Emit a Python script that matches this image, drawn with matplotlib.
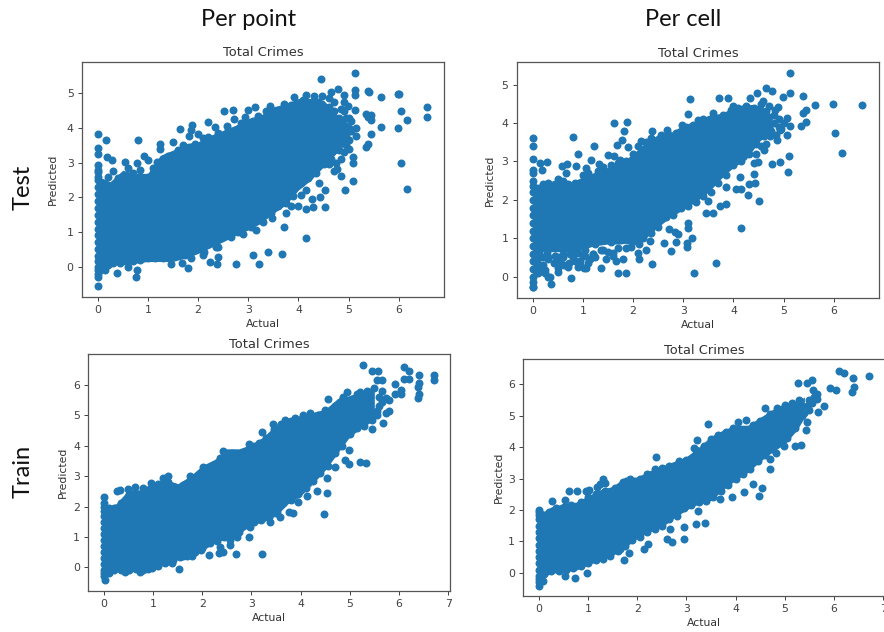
import matplotlib
matplotlib.use("Agg")
import matplotlib.pyplot as plt

BLUE = "#1f77b4"
W, H = 884, 632

tl_band_x = [0, .25, .5, .75, 1, 1.25, 1.5, 1.75, 2, 2.25, 2.5, 2.75, 3, 3.25, 3.5, 3.75, 4, 4.25, 4.5, 4.75, 5]
tl_band_low = [-.19, .1, .05, .1, .15, .15, .15, .25, .38, .55, .72, .9, 1.06, 1.25, 1.54, 1.78, 2.21, 2.5, 2.88, 3.26, 3.65]
tl_band_high = [2.6, 2.45, 2.78, 2.69, 2.69, 3.21, 3.36, 3.55, 3.6, 3.79, 3.93, 4.08, 4.27, 4.37, 4.61, 4.7, 4.85, 4.85, 4.8, 4.41, 4.13]

tr_band_x = [0, .12, .2, .5, .75, 1, 1.2, 1.5, 1.75, 2, 2.25, 2.5, 2.75, 3, 3.25, 3.5, 3.75, 4, 4.25, 4.5, 4.75]
tr_band_low = [-.17, .1, .65, .65, .65, .7, .8, .85, .85, .9, 1.0, 1.3, 1.55, 1.75, 1.95, 2.2, 2.55, 2.85, 3.05, 3.5, 3.8]
tr_band_high = [2.47, 2.34, 2.4, 2.55, 2.45, 2.6, 2.7, 2.85, 2.95, 3.2, 3.5, 3.7, 3.75, 3.95, 4.05, 4.2, 4.25, 4.4, 4.5, 4.45, 4.15]

bl_band_x = [0, .1, .25, .5, .75, 1, 1.25, 1.5, 1.75, 2, 2.25, 2.5, 2.75, 3, 3.25, 3.5, 3.75, 4, 4.25, 4.5, 4.75, 5, 5.25, 5.5]
bl_band_low = [-.47, -.2, -.1, -.15, -.13, -.05, .1, .25, .45, .55, .8, .95, 1.1, 1.4, 1.5, 1.7, 2.1, 2.35, 2.75, 3.2, 3.75, 4.3, 4.6, 4.85]
bl_band_high = [2.1, 2.0, 2.1, 2.55, 2.55, 2.8, 2.9, 2.75, 3.0, 3.35, 3.55, 3.9, 3.9, 4.05, 4.3, 4.7, 4.9, 5.0, 5.1, 5.2, 5.55, 5.65, 5.8, 5.95]

br_band_x = [0, .1, .25, .5, .75, 1, 1.25, 1.5, 1.75, 2, 2.25, 2.5, 2.75, 3, 3.25, 3.5, 3.75, 4, 4.25, 4.5, 4.75, 5, 5.25, 5.4]
br_band_low = [-.45, -.13, -.02, .03, .08, .25, .4, .55, .8, 1.1, 1.3, 1.45, 1.75, 2.0, 2.2, 2.3, 2.65, 2.95, 3.2, 3.55, 3.85, 4.1, 4.55, 4.95]
br_band_high = [2.05, 1.95, 2.1, 2.2, 2.25, 2.45, 2.65, 2.75, 3.05, 3.05, 3.25, 3.4, 3.55, 3.7, 4.0, 4.35, 4.55, 4.7, 4.7, 4.95, 5.2, 5.4, 5.45, 5.6]

# points along the rim of the solid part, and the column at Actual = 0
tl_rim_x = [.1, .2, .3, .4, .5, .6, .7, .85, 1.0, 1.1, 1.3, 1.4, 1.6, 1.7, 1.95, 2.1, 2.2, 2.4, 2.6, 2.85, 3.1, 3.2, 3.35, 3.6, 3.85, 4.1, 4.4, 4.6, 4.7, 4.8, 4.95, 5.0,
            .05, .2, .3, .45, .6, .7, .85, 1.0, 1.15, 1.3, 1.45, 1.6, 1.75, 1.9, 2.05, 2.2, 2.35, 2.5, 2.65, 2.8, 2.9, 3.05, 3.15, 3.3, 3.45, 3.6, 3.75, 3.9, 4.05, 4.2, 4.35, 4.5, 4.65, 4.8, 4.9,
            5.0, 5.05, 4.95, 4.9, 5.05, 4.85, 4.75, 4.9, 4.95, 4.6, 4.7, 5.0, 4.85, 4.7, 4.6, 4.6, 4.8, 5.0,
            0, 0, 0, 0, 0, 0, 0, 0, 0, 0, 0, 0, 0, 0, 0, 0, 0, 0]
tl_rim_y = [2.4, 2.6, 2.75, 2.55, 2.6, 2.85, 2.7, 2.8, 2.6, 2.85, 3.1, 3.2, 3.35, 3.5, 3.55, 3.7, 3.75, 3.85, 3.95, 4.15, 4.2, 4.35, 4.5, 4.5, 4.65, 4.8, 4.75, 4.6, 4.5, 4.3, 4.3, 4.0,
            -.1, .05, .1, .1, 0, .15, .2, .25, .25, .25, .25, .35, .35, .45, .55, .65, .75, .85, .85, 1.0, .95, 1.15, 1.05, 1.3, 1.55, 1.75, 1.85, 2.05, 2.4, 2.55, 2.7, 2.95, 3.1, 3.35, 3.6,
            4.3, 3.9, 3.8, 4.5, 4.2, 3.1, 3.0, 3.3, 3.5, 2.95, 2.75, 3.4, 4.55, 4.75, 4.85, 3.4, 3.8, 3.65,
            -.2, -.1, 0, .15, .3, .5, .7, .9, 1.1, 1.3, 1.5, 1.7, 1.9, 2.1, 2.3, 2.5, 2.6, 2.8]

tr_rim_x = [.1, .2, .3, .4, .5, .6, .7, .85, 1.0, 1.1, 1.3, 1.4, 1.55, 1.7, 1.85, 2.0, 2.1, 2.25, 2.35, 2.55, 2.7, 2.85, 3.05, 3.2, 3.4, 3.6, 3.8, 3.95, 4.1, 4.25, 4.4, 4.55, 4.7, 4.8, 4.9,
            1.9, 2.05, 2.2, 2.35, 2.5, 2.65, 2.8, 2.95, 3.1, 3.25, 3.4, 3.55, 3.7, 3.85, 4.0, 4.15, 4.3, 4.45, 4.6, 4.75,
            .25, .35, .51, .71, .9, 1.07, .2, .1, .1, .1,
            .3, .42, .55, .68, .8, .95, 1.1, 1.25, 1.45, 1.6, .28, .45, .6, .75, .9, 1.05, 1.2, 1.4,
            4.6, 4.7, 4.8, 4.85, 4.95, 4.65, 4.55, 4.7, 4.9, 5.0, 4.55, 4.45, 4.4, 4.6, 4.65,
            0, 0, 0, 0, 0, 0, 0, 0, 0, 0, 0, 0, 0, 0, 0, 0]
tr_rim_y = [2.3, 2.4, 2.45, 2.35, 2.55, 2.5, 2.4, 2.45, 2.65, 2.7, 2.75, 2.85, 2.9, 2.95, 3.0, 3.2, 3.4, 3.5, 3.6, 3.7, 3.72, 3.75, 3.9, 3.95, 4.1, 4.15, 4.2, 4.35, 4.4, 4.45, 4.4, 4.3, 4.15, 4.0, 3.9,
            .95, .95, 1.0, 1.15, 1.3, 1.55, 1.6, 1.8, 1.85, 1.95, 2.1, 2.2, 2.45, 2.65, 2.9, 3.0, 3.2, 3.45, 3.65, 3.8,
            .17, 0, .22, .26, .26, .22, .3, .1, .5, .9,
            .45, .35, .42, .3, .5, .42, .35, .5, .45, .62, .62, .55, .5, .6, .62, .55, .6, .7,
            3.9, 3.9, 4.2, 3.7, 3.85, 4.3, 4.5, 4.45, 4.1, 4.0, 3.4, 3.2, 2.95, 3.3, 3.45,
            -.26, -.15, 0, .2, .4, .6, .8, 1.0, 1.2, 1.4, 1.6, 1.8, 2.0, 2.2, 2.35, 2.5]

bl_rim_x = [.1, .2, .35, .5, .6, .8, .9, 1.1, 1.3, 1.45, 1.6, 1.85, 2.1, 2.2, 2.35, 2.6, 2.8, 3.05, 3.15, 3.3, 3.45, 3.6, 3.8, 4.1, 4.35, 4.55, 4.7, 4.85, 5.05, 5.15, 5.35, 5.5,
            .1, .2, .35, .5, .65, .8, .9, 1.1, 1.25, 1.4, 1.55, 1.7, 1.85, 2.0, 2.15, 2.3, 2.45, 2.6, 2.75, 2.9, 3.05, 3.2, 3.35, 3.5, 3.65, 3.8, 3.95, 4.1, 4.25, 4.4, 4.55, 4.7, 4.85, 5.0, 5.15, 5.3, 5.45, 5.55,
            5.6, 5.6, 5.55, 5.65,
            0, 0, 0, 0, 0, 0, 0, 0, 0, 0, 0, 0, 0, 0, 0]
bl_rim_y = [1.95, 1.95, 2.1, 2.4, 2.4, 2.45, 2.55, 2.75, 2.8, 2.65, 2.7, 2.95, 3.25, 3.35, 3.6, 3.75, 3.75, 4.0, 4.1, 4.25, 4.55, 4.7, 4.8, 4.9, 5.0, 5.1, 5.3, 5.5, 5.55, 5.7, 5.8, 5.9,
            -.2, -.1, -.1, -.1, -.05, -.1, -.05, .05, .15, .25, .35, .45, .5, .65, .8, .85, 1.0, 1.05, 1.15, 1.4, 1.5, 1.55, 1.65, 1.8, 2.1, 2.2, 2.4, 2.6, 2.85, 3.1, 3.35, 3.75, 4.0, 4.4, 4.6, 4.65, 4.85, 5.0,
            5.3, 5.6, 5.15, 5.45,
            -.3, -.1, .1, .3, .5, .7, .9, 1.1, 1.3, 1.5, 1.7, 1.85, 2.0, 2.1, -.2]

br_rim_x = [.1, .2, .35, .5, .65, .85, 1.0, 1.15, 1.35, 1.55, 1.7, 1.85, 2.05, 2.2, 2.35, 2.5, 2.65, 2.85, 3.0, 3.2, 3.35, 3.5, 3.65, 3.8, 3.95, 4.15, 4.35, 4.5, 4.7, 4.85, 5.0, 5.15, 5.3,
            .1, .25, .4, .55, .7, .85, 1.0, 1.15, 1.3, 1.45, 1.6, 1.75, 1.9, 2.05, 2.2, 2.35, 2.5, 2.65, 2.8, 2.95, 3.1, 3.25, 3.4, 3.55, 3.7, 3.85, 4.0, 4.15, 4.3, 4.45, 4.6, 4.75, 4.9, 5.05, 5.2, 5.35,
            5.45, 5.5, 5.6, 5.5, 5.4, 5.55,
            0, 0, 0, 0, 0, 0, 0, 0, 0, 0, 0, 0, 0, 0, 0]
br_rim_y = [1.85, 1.95, 2.05, 2.1, 2.15, 2.25, 2.4, 2.5, 2.6, 2.7, 2.9, 3.0, 3.0, 3.15, 3.3, 3.35, 3.4, 3.55, 3.6, 3.9, 4.05, 4.25, 4.4, 4.5, 4.6, 4.55, 4.7, 4.85, 5.05, 5.25, 5.35, 5.4, 5.5,
            -.05, .05, .05, .1, .15, .2, .3, .4, .45, .55, .7, .85, 1.05, 1.15, 1.3, 1.4, 1.5, 1.7, 1.8, 2.05, 2.15, 2.25, 2.3, 2.4, 2.6, 2.8, 3.0, 3.15, 3.3, 3.55, 3.75, 3.95, 4.15, 4.3, 4.6, 5.0,
            5.3, 5.5, 5.6, 5.2, 5.1, 5.4,
            -.3, -.1, .1, .3, .5, .7, .9, 1.1, 1.3, 1.5, 1.7, 1.85, 1.95, 2.0, -.2]

# points standing out of the solid part
tl_x = [5.13, 4.46, 4.78, 4.65, 4.91, 5.13, 5.13, 5.38, 5.40, 5.64, 5.98, 6.0, 6.57, 6.57, 6.04, 6.16, 5.98, 5.64, 5.44, 5.39, 5.34,
        5.34, 5.44, 5.44, 5.39, 5.14, 5.14, 5.13, 4.99, 4.91, 5.09, 5.08, 5.08, 4.93, 6.04, 6.16, 4.15, 3.72, 4.53, 4.30, 4.15, 4.0,
        3.86, 4.28, 4.43, 4.53, 4.42, 4.06, 4.15, 4.84, 4.77, 3.68, 3.40, 3.09, 3.22, 2.75, 3.47, 3.75, 2.40, 2.36, 2.40, 2.37, 2.24,
        2.10, 2.12, 1.81, 1.87, 1.69, 1.47, 1.51, .78, .76, .38, .15, 0, 0, 0, .16, .81, 0, 0, .18, 0, 0, .28, .54, .78, .92, 1.0,
        1.24, 1.24, 1.18, 1.51, 1.64, 1.89, 1.87, 1.83, 2.0, 2.19, 2.34, 2.58, 2.52, 2.69, 2.72, 3.0, 3.13, 2.93, 3.43, 3.72, 3.91,
        4.15, 4.32, 4.48]
tl_y = [5.59, 5.40, 5.13, 5.03, 4.96, 5.09, 4.96, 5.06, 5.03, 4.90, 4.99, 4.99, 4.59, 4.31, 4.50, 4.22, 4.0, 4.03, 3.82, 3.53, 3.45,
        4.40, 4.37, 4.22, 4.32, 4.01, 3.76, 4.51, 4.63, 4.75, 3.17, 2.98, 2.48, 2.21, 2.98, 2.23, .83, 1.15, 1.73, 1.73, 1.66, 1.76,
        1.76, 1.95, 2.0, 2.21, 2.42, 2.06, 2.21, 2.62, 2.83, .38, .43, .34, .08, .08, 1.39, 1.54, .58, .58, .27, .08, .14,
        .34, .43, -.03, .24, .1, .08, .38, -.1, -.29, -.19, -.1, -.56, -.29, 3.82, 3.64, 3.64, 3.41, 3.26, 3.17, 2.93, 2.73, 3.07, 3.02, 2.98, 3.2, 3.09,
        3.53, 3.38, 3.02, 3.6, 3.98, 4.08, 3.93, 3.76, 3.82, 4.17, 4.03, 4.05, 4.5, 4.53, 4.25, 4.51, 4.59, 4.32, 4.63, 4.7, 4.9,
        4.96, 4.91, 4.91]

tr_x = [5.12, 5.12, 4.99, 4.65, 4.77, 3.13, 3.72, 3.9, 3.09, 5.39, 5.63, 5.99, 6.56, 6.03, 6.16, 5.44, 5.39, 5.44, 5.34, 5.12, 5.06, 5.07,
        5.1, 5.08, 4.92, 4.76, 4.86, 4.73, 4.46, 4.33, 4.59, 4.89, 4.83, 4.92, 4.51, 4.43, 4.31, 4.28, 4.15, 4.05, 4.13, 4.41, 4.48, 4.15,
        3.86, 3.86, 3.73, 3.6, 3.45, 3.5, 3.66, 3.22, 3.17, 3.08, 3.08, 3.09, 3.09, 2.9, 2.83, 2.72, 2.85, 2.75, 2.62, 2.34, 2.37, 2.25, 2.12,
        2.1, 2.12, 1.96, 1.97, 1.85, 1.69, 1.36, .76, .37, .31, .51, 0,
        .3, .35, .4, .45, .5, .55, .6, .62, .7, .72, .75, .8, .85, .88, .92, .95, 1.0, 1.02, 1.05, 1.1, 1.15, 1.2, 1.25, 1.3, 1.35, 1.4, 1.45,
        1.5, 1.55, 1.6, 1.65, 1.7, 1.75, 1.8, 1.85, .15, .2, .18, .22, .25, .15,
        0, 0, 0, 0, 0, .15, .28, .18, .58, .68, .86, .66, .91, .81, 1.23, 1.17, 1.06, 1.32, 1.49, 1.61, 1.73, 1.67, 1.77, 1.62, 1.88, 1.82, 1.9,
        2.15, 2.37, 2.67, 2.97, 3.3, 3.6, 4.0]
tr_y = [5.29, 4.77, 4.67, 4.9, 4.84, 4.62, 4.64, 4.66, 4.24, 4.69, 4.47, 4.5, 4.47, 3.74, 3.23, 4.34, 4.27, 4.02, 3.93, 3.91, 4.12, 3.69,
        3.15, 2.73, 2.98, 2.93, 3.56, 3.65, 4.77, 4.64, 4.58, 4.41, 4.34, 3.82, 1.97, 2.43, 2.4, 2.13, 2.27, 2.27, 2.6, 2.67, 2.99, 1.27,
        2.34, 1.88, 1.85, 1.67, 1.65, 1.97, .36, .09, 1.0, .87, .78, 1.39, 1.26, 1.1, 1.17, 1.24, .89, .68, .87, .94, .33, .69, .84,
        .61, .45, .76, .91, .09, .09, .23, -.03, -.2, 0, .13, -.28,
        .5, .85, 1.1, .75, .5, 1.0, .6, .3, .95, .35, 1.15, .65, .4, .85, 1.2, .3, .55, .22, .7, .95, .45, .6, .85, 1.0, .7, .95, 1.1,
        .65, .9, .55, .4, .75, 1.0, .45, .75, .2, .5, .8, 1.05, .1, .95,
        3.6, 3.4, 3.06, 2.78, 2.71, 2.95, 2.98, 2.78, 2.89, 2.93, 2.89, 2.71, 3.19, 3.63, 3.4, 3.04, 2.82, 2.93, 3.17, 3.15, 3.04, 3.43, 3.56, 3.99, 4.02, 3.78, 3.37,
        3.54, 3.78, 3.82, 3.95, 4.08, 4.25, 4.44]

bl_x = [5.27, 5.46, 5.57, 5.55, 5.65, 6.11, 6.21, 6.11, 6.21, 6.41, 6.71, 6.71, 6.41, 6.38, 6.41, 6.38, 5.93, 6.05, 5.93, 6.05, 5.65, 5.8, 5.73,
        5.8, 5.73, 5.67, 5.46, 5.21, 4.94, 4.87, 4.55, 4.49, 4.19, 4.05, 3.88, 3.68, 3.44, 3.21, 4.99, 4.99, 5.21, 5.34, 4.9, 4.7, 4.53, 4.53, 4.33,
        4.48, 4.14, 3.94, 3.85, 3.77, 3.58, 3.51, 3.38, 3.21, 2.96, 2.97, 2.71, 2.56, 2.56, 2.68, 2.36, 2.43, 2.33, 2.14, 1.97, 1.78, 1.61, 1.68, 1.39, 1.53,
        0, .26, .33, .49, .63, .79, .95, 1.19, 1.31, 1.75, 2.02, 2.43, 2.96, .02, .43, .73, .97]
bl_y = [6.65, 6.47, 6.47, 6.18, 6.18, 6.58, 6.47, 6.2, 6.2, 6.33, 6.33, 6.16, 6.07, 5.94, 5.72, 5.58, 6.03, 5.85, 5.72, 5.72, 5.81, 5.5, 5.56,
        5.14, 5.07, 4.74, 4.54, 5.78, 5.78, 5.61, 5.54, 5.18, 5.09, 5.01, 4.93, 4.85, 4.7, 4.46, 3.86, 3.39, 3.46, 3.42, 3.53, 3.31, 2.93, 2.43, 2.51,
        1.75, 2.36, 2.15, 1.8, 1.83, 1.67, 1.83, 1.5, .44, .99, 1.34, 1.01, .9, .73, .44, .68, .52, .48, .41, .57, .37, .37, .37, .15, -.04,
        2.3, 2.51, 2.54, 2.58, 2.65, 2.62, 2.76, 2.93, 3.02, 3.02, 3.31, 3.84, 4.06, -.42, -.14, -.14, -.03]

br_x = [5.27, 5.46, 5.55, 6.11, 6.2, 6.39, 6.71, 6.41, 6.37, 5.93, 6.04, 5.58, 5.65, 5.8, 5.68, 5.65, 5.44, 5.46, 5.34, 5.21, 4.99, 4.83, 4.7, 4.7,
        4.53, 4.48, 4.35, 4.17, 3.93, 3.68, 3.38, 3.19, 3.24, 2.96, 2.94, 2.71, 2.6, 2.66, 2.22, 2.14, 1.83, 1.73, 1.65, .97, .73, .53, 0, .09,
        3.43, 2.38, 3.21, 3.16, 1.31, 1.24, 1.34, 1.17, 1.02, .96, .77, .62, .27, .52, 4.22, 4.05, 4.6]
br_y = [6.04, 6.04, 6.13, 6.43, 6.36, 6.21, 6.26, 5.92, 5.77, 5.9, 5.81, 5.81, 5.7, 5.32, 5.12, 5.55, 4.56, 4.8, 4.08, 4.04, 4.04, 3.82, 3.64, 3.32,
        2.71, 2.46, 2.84, 2.56, 2.4, 2.36, 1.57, 1.55, 1.97, 1.46, 1.07, .97, 1.09, 1.41, .93, .77, .62, .4, .77, -.02, -.16, -.11, -.42, -.25,
        4.73, 3.69, 4.22, 3.99, 3.0, 2.84, 2.86, 2.74, 2.63, 2.61, 2.61, 2.59, 2.29, 2.33, 4.88, 4.8, 5.26]

x_ticks_top = [0, 1, 2, 3, 4, 5, 6]
x_ticks_bottom = [0, 1, 2, 3, 4, 5, 6, 7]
y_ticks_top = [0, 1, 2, 3, 4, 5]
y_ticks_bottom = [0, 1, 2, 3, 4, 5, 6]


def panel(box, xlim, ylim, xticks, yticks, band, pts, rim, ypad):
    left, top, right, bottom = box
    ax = fig.add_axes([left / W, 1 - bottom / H, (right - left) / W, (bottom - top) / H])
    ax.fill_between(band[0], band[1], band[2], color=BLUE, lw=0)
    ax.scatter(rim[0], rim[1], s=33, color=BLUE, linewidths=0)
    ax.scatter(pts[0], pts[1], s=33, color=BLUE, linewidths=0)
    ax.set_xlim(xlim)
    ax.set_ylim(ylim)
    ax.set_xticks(xticks)
    ax.set_yticks(yticks)
    ax.tick_params(labelsize=7.8, colors="#404040", length=3, width=0.7, pad=3)
    for s in ax.spines.values():
        s.set_color("#555555")
        s.set_linewidth(0.9)
    ax.set_title("Total Crimes", fontsize=9.4, color="#333333", pad=4)
    ax.set_xlabel("Actual", fontsize=7.8, color="#333333", labelpad=3)
    ax.set_ylabel("Predicted", fontsize=7.8, color="#333333", labelpad=ypad)
    return ax


fig = plt.figure(figsize=(W / 100, H / 100), dpi=100)

panel((82, 61.7, 444, 296.7), (-0.31, 6.9), (-0.865, 5.91), x_ticks_top, y_ticks_top,
      (tl_band_x, tl_band_low, tl_band_high), (tl_x, tl_y), (tl_rim_x, tl_rim_y), 6)
panel((516.7, 62.3, 879, 297.7), (-0.32, 6.9), (-0.547, 5.58), x_ticks_top, y_ticks_top,
      (tr_band_x, tr_band_low, tr_band_high), (tr_x, tr_y), (tr_rim_x, tr_rim_y), 5)
panel((88.3, 354, 450, 590.7), (-0.32, 7.04), (-0.77, 7.02), x_ticks_bottom, y_ticks_bottom,
      (bl_band_x, bl_band_low, bl_band_high), (bl_x, bl_y), (bl_rim_x, bl_rim_y), 4)
panel((523.3, 359.3, 885, 596), (-0.32, 7.04), (-0.74, 6.8), x_ticks_bottom, y_ticks_bottom,
      (br_band_x, br_band_low, br_band_high), (br_x, br_y), (br_rim_x, br_rim_y), 3)

# headings pasted around the grid
fig.text(249 / W, 1 - 19 / H, "Per point", fontsize=17, family="Lato", ha="center", va="center", color="#111111")
fig.text(683 / W, 1 - 19 / H, "Per cell", fontsize=17, family="Lato", ha="center", va="center", color="#111111")
fig.text(23 / W, 1 - 187 / H, "Test", fontsize=17, family="Lato", rotation=90, ha="center", va="center", color="#111111")
fig.text(23 / W, 1 - 471 / H, "Train", fontsize=17, family="Lato", rotation=90, ha="center", va="center", color="#111111")

fig.savefig("out.png", dpi=100)
